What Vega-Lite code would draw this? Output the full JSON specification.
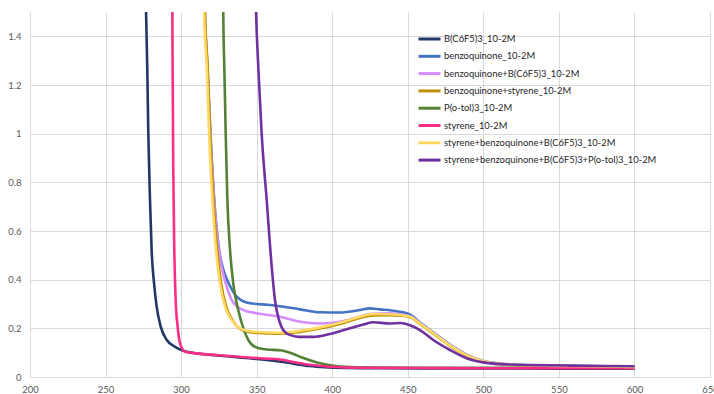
{
  "$schema": "https://vega.github.io/schema/vega-lite/v6.json",
  "width": 680,
  "height": 365,
  "autosize": {"type": "none"},
  "padding": {"left": 30, "top": 12, "right": 4, "bottom": 17},
  "background": "white",
  "config": {"view": {"stroke": null}, "font": "Lato"},
  "data": {"values": [
    {"series": "B(C6F5)3_10-2M", "x": 276.5, "y": 1.6},
    {"series": "B(C6F5)3_10-2M", "x": 276.8, "y": 1.5},
    {"series": "B(C6F5)3_10-2M", "x": 277.6, "y": 1.27},
    {"series": "B(C6F5)3_10-2M", "x": 278.3, "y": 1.0},
    {"series": "B(C6F5)3_10-2M", "x": 279.4, "y": 0.73},
    {"series": "B(C6F5)3_10-2M", "x": 280.5, "y": 0.52},
    {"series": "B(C6F5)3_10-2M", "x": 282.1, "y": 0.385},
    {"series": "B(C6F5)3_10-2M", "x": 283.8, "y": 0.29},
    {"series": "B(C6F5)3_10-2M", "x": 286.5, "y": 0.207},
    {"series": "B(C6F5)3_10-2M", "x": 290.5, "y": 0.152},
    {"series": "B(C6F5)3_10-2M", "x": 296, "y": 0.124},
    {"series": "B(C6F5)3_10-2M", "x": 301.5, "y": 0.108},
    {"series": "B(C6F5)3_10-2M", "x": 310, "y": 0.097},
    {"series": "B(C6F5)3_10-2M", "x": 320, "y": 0.091},
    {"series": "B(C6F5)3_10-2M", "x": 332, "y": 0.084},
    {"series": "B(C6F5)3_10-2M", "x": 345, "y": 0.077},
    {"series": "B(C6F5)3_10-2M", "x": 355, "y": 0.071},
    {"series": "B(C6F5)3_10-2M", "x": 365, "y": 0.064},
    {"series": "B(C6F5)3_10-2M", "x": 375, "y": 0.054},
    {"series": "B(C6F5)3_10-2M", "x": 385, "y": 0.045},
    {"series": "B(C6F5)3_10-2M", "x": 395, "y": 0.04},
    {"series": "B(C6F5)3_10-2M", "x": 410, "y": 0.037},
    {"series": "B(C6F5)3_10-2M", "x": 430, "y": 0.036},
    {"series": "B(C6F5)3_10-2M", "x": 460, "y": 0.035},
    {"series": "B(C6F5)3_10-2M", "x": 500, "y": 0.035},
    {"series": "B(C6F5)3_10-2M", "x": 550, "y": 0.034},
    {"series": "B(C6F5)3_10-2M", "x": 600, "y": 0.034},

    {"series": "benzoquinone_10-2M", "x": 315.5, "y": 1.6},
    {"series": "benzoquinone_10-2M", "x": 315.7, "y": 1.5},
    {"series": "benzoquinone_10-2M", "x": 317.5, "y": 1.27},
    {"series": "benzoquinone_10-2M", "x": 319.4, "y": 1.0},
    {"series": "benzoquinone_10-2M", "x": 321.9, "y": 0.73},
    {"series": "benzoquinone_10-2M", "x": 325.2, "y": 0.52},
    {"series": "benzoquinone_10-2M", "x": 328.5, "y": 0.43},
    {"series": "benzoquinone_10-2M", "x": 331.5, "y": 0.385},
    {"series": "benzoquinone_10-2M", "x": 334.5, "y": 0.35},
    {"series": "benzoquinone_10-2M", "x": 336.8, "y": 0.33},
    {"series": "benzoquinone_10-2M", "x": 340, "y": 0.315},
    {"series": "benzoquinone_10-2M", "x": 344, "y": 0.305},
    {"series": "benzoquinone_10-2M", "x": 350, "y": 0.3},
    {"series": "benzoquinone_10-2M", "x": 357, "y": 0.297},
    {"series": "benzoquinone_10-2M", "x": 365.4, "y": 0.291},
    {"series": "benzoquinone_10-2M", "x": 378.7, "y": 0.278},
    {"series": "benzoquinone_10-2M", "x": 391.9, "y": 0.266},
    {"series": "benzoquinone_10-2M", "x": 405.1, "y": 0.265},
    {"series": "benzoquinone_10-2M", "x": 418.4, "y": 0.275},
    {"series": "benzoquinone_10-2M", "x": 425, "y": 0.282},
    {"series": "benzoquinone_10-2M", "x": 431.6, "y": 0.278},
    {"series": "benzoquinone_10-2M", "x": 442.7, "y": 0.27},
    {"series": "benzoquinone_10-2M", "x": 451.5, "y": 0.256},
    {"series": "benzoquinone_10-2M", "x": 458.1, "y": 0.224},
    {"series": "benzoquinone_10-2M", "x": 466.9, "y": 0.183},
    {"series": "benzoquinone_10-2M", "x": 477.9, "y": 0.133},
    {"series": "benzoquinone_10-2M", "x": 489, "y": 0.092},
    {"series": "benzoquinone_10-2M", "x": 500, "y": 0.066},
    {"series": "benzoquinone_10-2M", "x": 511, "y": 0.055},
    {"series": "benzoquinone_10-2M", "x": 533, "y": 0.048},
    {"series": "benzoquinone_10-2M", "x": 555, "y": 0.046},
    {"series": "benzoquinone_10-2M", "x": 580, "y": 0.044},
    {"series": "benzoquinone_10-2M", "x": 600, "y": 0.043},

    {"series": "benzoquinone+B(C6F5)3_10-2M", "x": 315.4, "y": 1.6},
    {"series": "benzoquinone+B(C6F5)3_10-2M", "x": 315.6, "y": 1.5},
    {"series": "benzoquinone+B(C6F5)3_10-2M", "x": 317.4, "y": 1.27},
    {"series": "benzoquinone+B(C6F5)3_10-2M", "x": 319.3, "y": 1.0},
    {"series": "benzoquinone+B(C6F5)3_10-2M", "x": 321.8, "y": 0.73},
    {"series": "benzoquinone+B(C6F5)3_10-2M", "x": 325, "y": 0.52},
    {"series": "benzoquinone+B(C6F5)3_10-2M", "x": 328, "y": 0.42},
    {"series": "benzoquinone+B(C6F5)3_10-2M", "x": 330.2, "y": 0.37},
    {"series": "benzoquinone+B(C6F5)3_10-2M", "x": 333.5, "y": 0.316},
    {"series": "benzoquinone+B(C6F5)3_10-2M", "x": 337, "y": 0.29},
    {"series": "benzoquinone+B(C6F5)3_10-2M", "x": 341.2, "y": 0.275},
    {"series": "benzoquinone+B(C6F5)3_10-2M", "x": 350, "y": 0.262},
    {"series": "benzoquinone+B(C6F5)3_10-2M", "x": 365.4, "y": 0.248},
    {"series": "benzoquinone+B(C6F5)3_10-2M", "x": 378.7, "y": 0.227},
    {"series": "benzoquinone+B(C6F5)3_10-2M", "x": 391.9, "y": 0.22},
    {"series": "benzoquinone+B(C6F5)3_10-2M", "x": 405.1, "y": 0.227},
    {"series": "benzoquinone+B(C6F5)3_10-2M", "x": 418.4, "y": 0.248},
    {"series": "benzoquinone+B(C6F5)3_10-2M", "x": 425, "y": 0.259},
    {"series": "benzoquinone+B(C6F5)3_10-2M", "x": 438.2, "y": 0.262},
    {"series": "benzoquinone+B(C6F5)3_10-2M", "x": 444.9, "y": 0.258},
    {"series": "benzoquinone+B(C6F5)3_10-2M", "x": 451.5, "y": 0.25},
    {"series": "benzoquinone+B(C6F5)3_10-2M", "x": 458.1, "y": 0.222},
    {"series": "benzoquinone+B(C6F5)3_10-2M", "x": 466.9, "y": 0.181},
    {"series": "benzoquinone+B(C6F5)3_10-2M", "x": 477.9, "y": 0.131},
    {"series": "benzoquinone+B(C6F5)3_10-2M", "x": 489, "y": 0.09},
    {"series": "benzoquinone+B(C6F5)3_10-2M", "x": 500, "y": 0.065},
    {"series": "benzoquinone+B(C6F5)3_10-2M", "x": 511, "y": 0.054},
    {"series": "benzoquinone+B(C6F5)3_10-2M", "x": 533, "y": 0.047},
    {"series": "benzoquinone+B(C6F5)3_10-2M", "x": 555, "y": 0.045},
    {"series": "benzoquinone+B(C6F5)3_10-2M", "x": 580, "y": 0.043},
    {"series": "benzoquinone+B(C6F5)3_10-2M", "x": 600, "y": 0.042},

    {"series": "benzoquinone+styrene_10-2M", "x": 315.6, "y": 1.6},
    {"series": "benzoquinone+styrene_10-2M", "x": 315.8, "y": 1.5},
    {"series": "benzoquinone+styrene_10-2M", "x": 317.6, "y": 1.27},
    {"series": "benzoquinone+styrene_10-2M", "x": 319.2, "y": 1.0},
    {"series": "benzoquinone+styrene_10-2M", "x": 321.4, "y": 0.73},
    {"series": "benzoquinone+styrene_10-2M", "x": 323.9, "y": 0.52},
    {"series": "benzoquinone+styrene_10-2M", "x": 326.5, "y": 0.385},
    {"series": "benzoquinone+styrene_10-2M", "x": 329.8, "y": 0.29},
    {"series": "benzoquinone+styrene_10-2M", "x": 334.2, "y": 0.232},
    {"series": "benzoquinone+styrene_10-2M", "x": 339.5, "y": 0.196},
    {"series": "benzoquinone+styrene_10-2M", "x": 348, "y": 0.182},
    {"series": "benzoquinone+styrene_10-2M", "x": 365.4, "y": 0.178},
    {"series": "benzoquinone+styrene_10-2M", "x": 378.7, "y": 0.185},
    {"series": "benzoquinone+styrene_10-2M", "x": 391.9, "y": 0.199},
    {"series": "benzoquinone+styrene_10-2M", "x": 405.1, "y": 0.218},
    {"series": "benzoquinone+styrene_10-2M", "x": 418.4, "y": 0.243},
    {"series": "benzoquinone+styrene_10-2M", "x": 427.2, "y": 0.253},
    {"series": "benzoquinone+styrene_10-2M", "x": 438.2, "y": 0.254},
    {"series": "benzoquinone+styrene_10-2M", "x": 444.9, "y": 0.252},
    {"series": "benzoquinone+styrene_10-2M", "x": 451.5, "y": 0.246},
    {"series": "benzoquinone+styrene_10-2M", "x": 458.1, "y": 0.218},
    {"series": "benzoquinone+styrene_10-2M", "x": 466.9, "y": 0.178},
    {"series": "benzoquinone+styrene_10-2M", "x": 477.9, "y": 0.128},
    {"series": "benzoquinone+styrene_10-2M", "x": 489, "y": 0.088},
    {"series": "benzoquinone+styrene_10-2M", "x": 500, "y": 0.064},
    {"series": "benzoquinone+styrene_10-2M", "x": 511, "y": 0.053},
    {"series": "benzoquinone+styrene_10-2M", "x": 533, "y": 0.046},
    {"series": "benzoquinone+styrene_10-2M", "x": 555, "y": 0.044},
    {"series": "benzoquinone+styrene_10-2M", "x": 580, "y": 0.042},
    {"series": "benzoquinone+styrene_10-2M", "x": 600, "y": 0.04},

    {"series": "P(o-tol)3_10-2M", "x": 327.8, "y": 1.6},
    {"series": "P(o-tol)3_10-2M", "x": 327.9, "y": 1.5},
    {"series": "P(o-tol)3_10-2M", "x": 328.6, "y": 1.27},
    {"series": "P(o-tol)3_10-2M", "x": 329.5, "y": 1.0},
    {"series": "P(o-tol)3_10-2M", "x": 330.6, "y": 0.73},
    {"series": "P(o-tol)3_10-2M", "x": 332.4, "y": 0.52},
    {"series": "P(o-tol)3_10-2M", "x": 334.5, "y": 0.385},
    {"series": "P(o-tol)3_10-2M", "x": 337.8, "y": 0.275},
    {"series": "P(o-tol)3_10-2M", "x": 341.2, "y": 0.2},
    {"series": "P(o-tol)3_10-2M", "x": 344.5, "y": 0.152},
    {"series": "P(o-tol)3_10-2M", "x": 348.9, "y": 0.124},
    {"series": "P(o-tol)3_10-2M", "x": 356.6, "y": 0.113},
    {"series": "P(o-tol)3_10-2M", "x": 365.4, "y": 0.11},
    {"series": "P(o-tol)3_10-2M", "x": 372, "y": 0.1},
    {"series": "P(o-tol)3_10-2M", "x": 380, "y": 0.08},
    {"series": "P(o-tol)3_10-2M", "x": 390, "y": 0.06},
    {"series": "P(o-tol)3_10-2M", "x": 400, "y": 0.047},
    {"series": "P(o-tol)3_10-2M", "x": 412, "y": 0.041},
    {"series": "P(o-tol)3_10-2M", "x": 430, "y": 0.039},
    {"series": "P(o-tol)3_10-2M", "x": 470, "y": 0.038},
    {"series": "P(o-tol)3_10-2M", "x": 520, "y": 0.038},
    {"series": "P(o-tol)3_10-2M", "x": 600, "y": 0.037},

    {"series": "styrene_10-2M", "x": 294.1, "y": 1.6},
    {"series": "styrene_10-2M", "x": 294.2, "y": 1.5},
    {"series": "styrene_10-2M", "x": 294.4, "y": 1.27},
    {"series": "styrene_10-2M", "x": 294.8, "y": 0.86},
    {"series": "styrene_10-2M", "x": 295.5, "y": 0.52},
    {"series": "styrene_10-2M", "x": 296.4, "y": 0.316},
    {"series": "styrene_10-2M", "x": 297.7, "y": 0.207},
    {"series": "styrene_10-2M", "x": 299.3, "y": 0.138},
    {"series": "styrene_10-2M", "x": 302.6, "y": 0.104},
    {"series": "styrene_10-2M", "x": 310.3, "y": 0.097},
    {"series": "styrene_10-2M", "x": 320, "y": 0.092},
    {"series": "styrene_10-2M", "x": 332.4, "y": 0.086},
    {"series": "styrene_10-2M", "x": 345, "y": 0.08},
    {"series": "styrene_10-2M", "x": 355, "y": 0.076},
    {"series": "styrene_10-2M", "x": 365.4, "y": 0.072},
    {"series": "styrene_10-2M", "x": 375, "y": 0.061},
    {"series": "styrene_10-2M", "x": 385, "y": 0.05},
    {"series": "styrene_10-2M", "x": 398.5, "y": 0.042},
    {"series": "styrene_10-2M", "x": 420, "y": 0.038},
    {"series": "styrene_10-2M", "x": 460, "y": 0.037},
    {"series": "styrene_10-2M", "x": 500, "y": 0.036},
    {"series": "styrene_10-2M", "x": 550, "y": 0.036},
    {"series": "styrene_10-2M", "x": 600, "y": 0.036},

    {"series": "styrene+benzoquinone+B(C6F5)3_10-2M", "x": 315, "y": 1.6},
    {"series": "styrene+benzoquinone+B(C6F5)3_10-2M", "x": 315.2, "y": 1.5},
    {"series": "styrene+benzoquinone+B(C6F5)3_10-2M", "x": 317, "y": 1.27},
    {"series": "styrene+benzoquinone+B(C6F5)3_10-2M", "x": 318.5, "y": 1.0},
    {"series": "styrene+benzoquinone+B(C6F5)3_10-2M", "x": 320.7, "y": 0.73},
    {"series": "styrene+benzoquinone+B(C6F5)3_10-2M", "x": 323.1, "y": 0.52},
    {"series": "styrene+benzoquinone+B(C6F5)3_10-2M", "x": 325.7, "y": 0.385},
    {"series": "styrene+benzoquinone+B(C6F5)3_10-2M", "x": 329, "y": 0.29},
    {"series": "styrene+benzoquinone+B(C6F5)3_10-2M", "x": 333.5, "y": 0.234},
    {"series": "styrene+benzoquinone+B(C6F5)3_10-2M", "x": 339, "y": 0.2},
    {"series": "styrene+benzoquinone+B(C6F5)3_10-2M", "x": 347.8, "y": 0.186},
    {"series": "styrene+benzoquinone+B(C6F5)3_10-2M", "x": 365.4, "y": 0.182},
    {"series": "styrene+benzoquinone+B(C6F5)3_10-2M", "x": 378.7, "y": 0.19},
    {"series": "styrene+benzoquinone+B(C6F5)3_10-2M", "x": 391.9, "y": 0.204},
    {"series": "styrene+benzoquinone+B(C6F5)3_10-2M", "x": 405.1, "y": 0.223},
    {"series": "styrene+benzoquinone+B(C6F5)3_10-2M", "x": 418.4, "y": 0.248},
    {"series": "styrene+benzoquinone+B(C6F5)3_10-2M", "x": 427.2, "y": 0.259},
    {"series": "styrene+benzoquinone+B(C6F5)3_10-2M", "x": 438.2, "y": 0.258},
    {"series": "styrene+benzoquinone+B(C6F5)3_10-2M", "x": 444.9, "y": 0.255},
    {"series": "styrene+benzoquinone+B(C6F5)3_10-2M", "x": 451.5, "y": 0.248},
    {"series": "styrene+benzoquinone+B(C6F5)3_10-2M", "x": 458.1, "y": 0.22},
    {"series": "styrene+benzoquinone+B(C6F5)3_10-2M", "x": 466.9, "y": 0.18},
    {"series": "styrene+benzoquinone+B(C6F5)3_10-2M", "x": 477.9, "y": 0.13},
    {"series": "styrene+benzoquinone+B(C6F5)3_10-2M", "x": 489, "y": 0.09},
    {"series": "styrene+benzoquinone+B(C6F5)3_10-2M", "x": 500, "y": 0.065},
    {"series": "styrene+benzoquinone+B(C6F5)3_10-2M", "x": 511, "y": 0.054},
    {"series": "styrene+benzoquinone+B(C6F5)3_10-2M", "x": 533, "y": 0.047},
    {"series": "styrene+benzoquinone+B(C6F5)3_10-2M", "x": 555, "y": 0.045},
    {"series": "styrene+benzoquinone+B(C6F5)3_10-2M", "x": 580, "y": 0.043},
    {"series": "styrene+benzoquinone+B(C6F5)3_10-2M", "x": 600, "y": 0.041},

    {"series": "styrene+benzoquinone+B(C6F5)3+P(o-tol)3_10-2M", "x": 349.2, "y": 1.6},
    {"series": "styrene+benzoquinone+B(C6F5)3+P(o-tol)3_10-2M", "x": 349.6, "y": 1.5},
    {"series": "styrene+benzoquinone+B(C6F5)3+P(o-tol)3_10-2M", "x": 351.1, "y": 1.27},
    {"series": "styrene+benzoquinone+B(C6F5)3+P(o-tol)3_10-2M", "x": 353.3, "y": 1.0},
    {"series": "styrene+benzoquinone+B(C6F5)3+P(o-tol)3_10-2M", "x": 356.6, "y": 0.73},
    {"series": "styrene+benzoquinone+B(C6F5)3+P(o-tol)3_10-2M", "x": 360, "y": 0.45},
    {"series": "styrene+benzoquinone+B(C6F5)3+P(o-tol)3_10-2M", "x": 362.1, "y": 0.316},
    {"series": "styrene+benzoquinone+B(C6F5)3+P(o-tol)3_10-2M", "x": 364.3, "y": 0.245},
    {"series": "styrene+benzoquinone+B(C6F5)3+P(o-tol)3_10-2M", "x": 366.5, "y": 0.205},
    {"series": "styrene+benzoquinone+B(C6F5)3+P(o-tol)3_10-2M", "x": 369, "y": 0.183},
    {"series": "styrene+benzoquinone+B(C6F5)3+P(o-tol)3_10-2M", "x": 373, "y": 0.171},
    {"series": "styrene+benzoquinone+B(C6F5)3+P(o-tol)3_10-2M", "x": 378, "y": 0.165},
    {"series": "styrene+benzoquinone+B(C6F5)3+P(o-tol)3_10-2M", "x": 387.5, "y": 0.165},
    {"series": "styrene+benzoquinone+B(C6F5)3+P(o-tol)3_10-2M", "x": 398.5, "y": 0.177},
    {"series": "styrene+benzoquinone+B(C6F5)3+P(o-tol)3_10-2M", "x": 409.5, "y": 0.196},
    {"series": "styrene+benzoquinone+B(C6F5)3+P(o-tol)3_10-2M", "x": 420.6, "y": 0.216},
    {"series": "styrene+benzoquinone+B(C6F5)3+P(o-tol)3_10-2M", "x": 427.2, "y": 0.225},
    {"series": "styrene+benzoquinone+B(C6F5)3+P(o-tol)3_10-2M", "x": 438.2, "y": 0.22},
    {"series": "styrene+benzoquinone+B(C6F5)3+P(o-tol)3_10-2M", "x": 444.9, "y": 0.222},
    {"series": "styrene+benzoquinone+B(C6F5)3+P(o-tol)3_10-2M", "x": 451.5, "y": 0.213},
    {"series": "styrene+benzoquinone+B(C6F5)3+P(o-tol)3_10-2M", "x": 458.1, "y": 0.193},
    {"series": "styrene+benzoquinone+B(C6F5)3+P(o-tol)3_10-2M", "x": 466.9, "y": 0.152},
    {"series": "styrene+benzoquinone+B(C6F5)3+P(o-tol)3_10-2M", "x": 477.9, "y": 0.111},
    {"series": "styrene+benzoquinone+B(C6F5)3+P(o-tol)3_10-2M", "x": 489, "y": 0.077},
    {"series": "styrene+benzoquinone+B(C6F5)3+P(o-tol)3_10-2M", "x": 500, "y": 0.06},
    {"series": "styrene+benzoquinone+B(C6F5)3+P(o-tol)3_10-2M", "x": 511, "y": 0.053},
    {"series": "styrene+benzoquinone+B(C6F5)3+P(o-tol)3_10-2M", "x": 533, "y": 0.049},
    {"series": "styrene+benzoquinone+B(C6F5)3+P(o-tol)3_10-2M", "x": 555, "y": 0.047},
    {"series": "styrene+benzoquinone+B(C6F5)3+P(o-tol)3_10-2M", "x": 580, "y": 0.045},
    {"series": "styrene+benzoquinone+B(C6F5)3+P(o-tol)3_10-2M", "x": 600, "y": 0.044}
  ]},
  "mark": {"type": "line", "clip": true, "strokeWidth": 2.6, "interpolate": "monotone"},
  "encoding": {
    "x": {
      "field": "x", "type": "quantitative",
      "scale": {"domain": [200, 650], "nice": false, "zero": false},
      "axis": {
        "title": null, "values": [200, 250, 300, 350, 400, 450, 500, 550, 600, 650],
        "grid": true, "gridColor": "#d9d9d9", "gridWidth": 1,
        "domainColor": "#d9d9d9", "domainWidth": 1,
        "ticks": false, "tickSize": 0, "labelPadding": 7,
        "labelFont": "Lato", "labelFontSize": 9.5, "labelColor": "#595959",
        "labelFlush": false, "labelOverlap": false
      }
    },
    "y": {
      "field": "y", "type": "quantitative",
      "scale": {"domain": [0, 1.5], "nice": false},
      "axis": {
        "title": null, "values": [0, 0.2, 0.4, 0.6, 0.8, 1, 1.2, 1.4], "format": "~g",
        "grid": true, "gridColor": "#d9d9d9", "gridWidth": 1,
        "domainColor": "#d9d9d9", "domainWidth": 1,
        "ticks": false, "tickSize": 0, "labelPadding": 9,
        "labelFont": "Lato", "labelFontSize": 9.5, "labelColor": "#595959",
        "labelFlush": false, "labelOverlap": false
      }
    },
    "color": {
      "field": "series", "type": "nominal",
      "scale": {
        "domain": ["B(C6F5)3_10-2M", "benzoquinone_10-2M", "benzoquinone+B(C6F5)3_10-2M", "benzoquinone+styrene_10-2M", "P(o-tol)3_10-2M", "styrene_10-2M", "styrene+benzoquinone+B(C6F5)3_10-2M", "styrene+benzoquinone+B(C6F5)3+P(o-tol)3_10-2M"],
        "range": ["#203864", "#4472C4", "#D48CFF", "#BF9000", "#548235", "#FF2D87", "#FFD966", "#7030A0"]
      },
      "legend": {
        "title": null, "orient": "none", "legendX": 392.5, "legendY": 20,
        "symbolType": "M-2,0L2,0", "symbolSize": 121, "symbolStrokeWidth": 3,
        "labelFont": "Lato", "labelFontSize": 9.4, "labelColor": "#262626",
        "labelOffset": 7.5, "rowPadding": 4.3, "labelLimit": 400, "padding": 0
      }
    }
  }
}
